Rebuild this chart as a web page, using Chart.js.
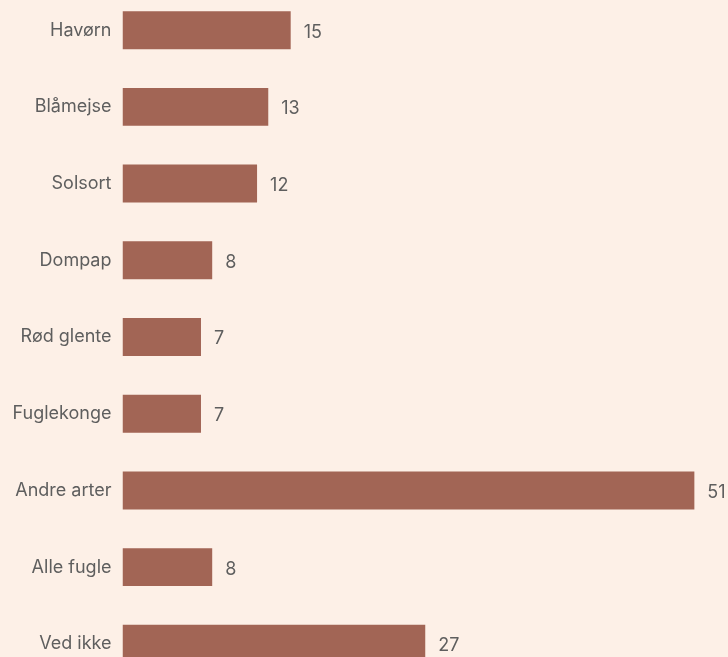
<!DOCTYPE html>
<html>
<head>
<meta charset="utf-8">
<script src="https://cdn.jsdelivr.net/npm/chart.js@4/dist/chart.umd.min.js"></script>
<style>
  html, body {
    margin: 0;
    padding: 0;
    width: 728px;
    height: 657px;
    overflow: hidden;
    background: #fdf0e7;
  }
  #bird-chart {
    position: absolute;
    left: 0;
    top: -30px;
  }
</style>
</head>
<body>
<canvas id="bird-chart" width="728" height="734"></canvas>
<script>
// data
const categories = [
  "Havørn", "Blåmejse", "Solsort", "Dompap", "Rød glente",
  "Fuglekonge", "Andre arter", "Alle fugle", "Ved ikke"
];
const counts = [15, 13, 12, 8, 7, 7, 51, 8, 27];

const BAR_COLOR = "#a26555";
const TEXT_COLOR = "#5e5e5e";
const FONT = "Inter, 'Liberation Sans', sans-serif";
const FONT_SIZE = 18;


// tal til højre for søjlerne
const valueLabels = {
  id: "valueLabels",
  afterDatasetsDraw(chart) {
    const ctx = chart.ctx;
    const meta = chart.getDatasetMeta(0);
    ctx.save();
    ctx.font = FONT_SIZE + "px " + FONT;
    ctx.fillStyle = TEXT_COLOR;
    ctx.textAlign = "left";
    ctx.textBaseline = "middle";
    meta.data.forEach((bar, i) => {
      ctx.fillText(String(counts[i]), bar.x + 13, bar.y + 2);
    });
    ctx.restore();
  }
};


new Chart(document.getElementById("bird-chart"), {
  type: "bar",
  data: {
    labels: categories,
    datasets: [{
      data: counts,
      backgroundColor: BAR_COLOR,
      borderWidth: 0,
      categoryPercentage: 1,
      barPercentage: 0.495
    }]
  },
  options: {
    indexAxis: "y",
    responsive: false,
    devicePixelRatio: 1,
    animation: false,
    layout: { padding: 0 },
    plugins: {
      legend: { display: false },
      tooltip: { enabled: false }
    },
    scales: {
      x: {
        display: false,
        min: 0,
        max: 54
      },
      y: {
        grid: { display: false, drawTicks: false },
        border: { display: false },
        ticks: {
          color: TEXT_COLOR,
          font: { family: FONT, size: FONT_SIZE },
          padding: 11
        },
        afterFit(scale) {
          scale.width = 122.5;
        }
      }
    }
  },
  plugins: [valueLabels]
});
</script>
</body>
</html>
